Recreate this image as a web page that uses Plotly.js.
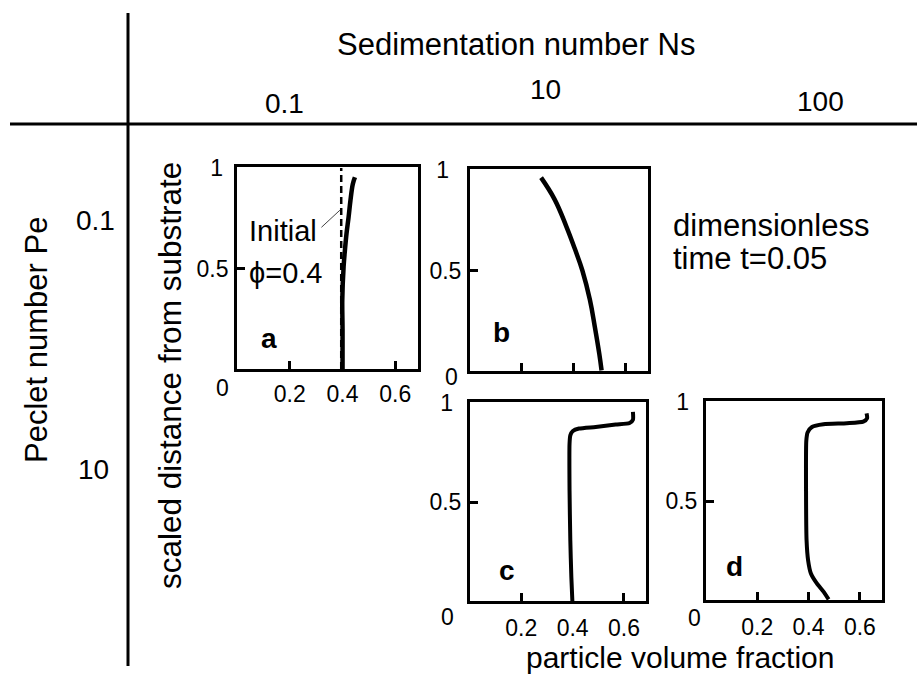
<!DOCTYPE html>
<html>
<head>
<meta charset="utf-8">
<script src="https://cdn.plot.ly/plotly-3.0.1.min.js"></script>
<style>html,body{margin:0;padding:0;background:#fff;}#chart{width:917px;height:675px;}</style>
</head>
<body>
<div id="chart"></div>
<script>
// ---- data ----
// panel a: Pe=0.1, Ns=0.1
const phiA = [0.400, 0.400, 0.399, 0.404, 0.409, 0.415, 0.423, 0.430, 0.439, 0.447];
const zA   = [0.000, 0.200, 0.342, 0.508, 0.591, 0.673, 0.756, 0.839, 0.921, 0.954];
// initial state in panel a
const phiInit = [0.395, 0.395];
const zInit   = [0.000, 1.000];
// panel b: Pe=0.1, Ns=10
const phiB = [0.507, 0.498, 0.481, 0.462, 0.433, 0.405, 0.371, 0.326, 0.274];
const zB   = [0.003, 0.087, 0.220, 0.354, 0.500, 0.604, 0.720, 0.854, 0.962];
// panel c: Pe=10, Ns=10
const phiC = [0.399, 0.395, 0.391, 0.388, 0.388, 0.391, 0.401, 0.425, 0.490, 0.568, 0.622, 0.635, 0.635];
const zC   = [0.000, 0.121, 0.307, 0.559, 0.795, 0.837, 0.859, 0.871, 0.879, 0.891, 0.899, 0.916, 0.955];
// panel d: Pe=10, Ns=100
const phiD = [0.478, 0.458, 0.432, 0.409, 0.398, 0.392, 0.390, 0.391, 0.396, 0.413, 0.458, 0.549, 0.613, 0.628, 0.626];
const zD   = [0.003, 0.042, 0.084, 0.134, 0.201, 0.302, 0.553, 0.804, 0.846, 0.874, 0.888, 0.893, 0.901, 0.918, 0.943];

const xTickVals = [0.2, 0.4, 0.6];
const xTickText = ['0.2', '0.4', '0.6'];
const yTickVals = [0.5];
const yTickText = ['0.5'];
const yTopVals = [1];
const yTopText = ['1'];
const nsLabels = ['0.1', '10', '100'];
const peLabels = ['0.1', '10'];
const panelLetters = ['a', 'b', 'c', 'd'];

const FONT = 'Liberation Sans, Arial, sans-serif';

function curve(x, y, xa, ya, w, smooth, dash) {
  return {x: x, y: y, xaxis: xa, yaxis: ya, type: 'scatter', mode: 'lines',
          line: {color: '#000', width: w, dash: dash || 'solid',
                 shape: smooth ? 'spline' : 'linear', smoothing: smooth || 0},
          hoverinfo: 'skip', showlegend: false};
}

// curves live on the base axes; the dashed/initial and the profile are also mirrored
// onto the overlay axes (same range) so those axes get drawn with their "1" label
const traces = [
  curve(phiInit, zInit, 'x', 'y', 2.5, 0, '7px,4px'),
  curve(phiA, zA, 'x', 'y5', 4.5, 1),
  curve(phiB, zB, 'x2', 'y6', 4.5, 1.2),
  curve(phiC, zC, 'x3', 'y7', 4, 0.6),
  curve(phiD, zD, 'x4', 'y8', 4, 0.6)
];

const YR = [0, 1.005];
function xAxis(domain, anchor, showLabels, standoff) {
  return {domain: domain, anchor: anchor, range: [0, 0.686], showline: true, mirror: true,
          linecolor: '#000', linewidth: 3, ticks: 'inside', ticklen: 8, tickwidth: 3, tickcolor: '#000',
          tickvals: xTickVals, ticktext: xTickText, showticklabels: showLabels,
          ticklabelstandoff: standoff, showgrid: false, zeroline: false, fixedrange: true,
          tickfont: {family: FONT, size: 23, color: '#000'}};
}
function yAxis(domain, anchor) {
  return {domain: domain, anchor: anchor, range: YR, showline: true, mirror: true,
          linecolor: '#000', linewidth: 3, ticks: 'inside', ticklen: 8, tickwidth: 3, tickcolor: '#000',
          tickvals: yTickVals, ticktext: yTickText, showgrid: false, zeroline: false, fixedrange: true,
          ticklabelstandoff: 1,
          tickfont: {family: FONT, size: 23, color: '#000'}};
}
// overlay axis carrying only the "1" label (no tick mark), set a little further from the frame
function yTop(over, anchor, standoff) {
  return {overlaying: over, anchor: anchor, side: 'left', range: YR, showline: false, ticks: '',
          tickvals: yTopVals, ticktext: yTopText, showgrid: false, zeroline: false, fixedrange: true,
          ticklabelstandoff: standoff,
          tickfont: {family: FONT, size: 23, color: '#000'}};
}

function txt(text, x, y, size, opts) {
  return Object.assign({text: text, x: x, y: y, xref: 'paper', yref: 'paper', showarrow: false,
          font: {family: FONT, size: size, color: '#000'}, xanchor: 'center', yanchor: 'middle'}, opts || {});
}
function px(xp) { return xp / 917; }
function py(yp) { return 1 - yp / 675; }
function dtxt(text, x, y, xa, ya, size, opts) {
  return Object.assign({text: text, x: x, y: y, xref: xa, yref: ya, showarrow: false,
          font: {family: FONT, size: size, color: '#000'}}, opts || {});
}

const annotations = [
  txt('Sedimentation number Ns', px(516), py(45), 31),
  txt(nsLabels[0], px(284), py(104), 28),
  txt(nsLabels[1], px(545), py(90), 28),
  txt(nsLabels[2], px(820), py(102), 28),
  txt('Peclet number Pe', px(37), py(340), 31, {textangle: -90}),
  txt(peLabels[0], px(95), py(220), 28),
  txt(peLabels[1], px(93), py(469), 28),
  txt('scaled distance from substrate', px(170), py(376), 31.5, {textangle: -90}),
  txt('particle volume fraction', px(680), py(657), 30),
  txt('dimensionless', px(671), py(226), 31, {xanchor: 'left'}),
  txt('time t=0.05', px(671), py(259), 31, {xanchor: 'left'}),
  // labels inside panel a
  dtxt('Initial', 0.175, 0.685, 'x', 'y', 29),
  dtxt('\u03D5=0.4', 0.185, 0.48, 'x', 'y', 29),
  // panel letters
  dtxt('<b>' + panelLetters[0] + '</b>', 0.122, 0.154, 'x', 'y', 28),
  dtxt('<b>' + panelLetters[1] + '</b>', 0.122, 0.19, 'x2', 'y2', 28),
  dtxt('<b>' + panelLetters[2] + '</b>', 0.145, 0.155, 'x3', 'y3', 28),
  dtxt('<b>' + panelLetters[3] + '</b>', 0.112, 0.167, 'x4', 'y4', 28),
  // corner zeros
  dtxt('0', 0, 0, 'x', 'y', 23, {xshift: -15, yshift: -19}),
  dtxt('0', 0, 0, 'x2', 'y2', 23, {xshift: -18, yshift: -6}),
  dtxt('0', 0, 0, 'x3', 'y3', 23, {xshift: -22, yshift: -16}),
  dtxt('0', 0, 0, 'x4', 'y4', 23, {xshift: -11, yshift: -18})
];

const shapes = [
  // cross dividing the table
  {type: 'line', xref: 'paper', yref: 'paper', x0: px(128), x1: px(128), y0: py(13), y1: py(666), line: {color: '#000', width: 3}},
  {type: 'line', xref: 'paper', yref: 'paper', x0: px(10), x1: px(917), y0: py(124), y1: py(124), line: {color: '#000', width: 3}},
  // leader from "Initial" to the dashed line
  {type: 'line', xref: 'x', yref: 'y', x0: 0.32, y0: 0.705, x1: 0.39, y1: 0.79, line: {color: '#444', width: 1}}
];

const layout = {
  width: 917, height: 675, margin: {l: 0, r: 0, t: 0, b: 0},
  paper_bgcolor: '#fff', plot_bgcolor: 'rgba(0,0,0,0)', showlegend: false,
  font: {family: FONT, color: '#000'},
  xaxis:  xAxis([0.2585, 0.4558], 'y', true, 2),
  yaxis:  yAxis([0.4533, 0.7526], 'x'),
  xaxis2: xAxis([0.5125, 0.7067], 'y2', false, 2),
  yaxis2: yAxis([0.4504, 0.7496], 'x2'),
  xaxis3: xAxis([0.5125, 0.7045], 'y3', true, 4),
  yaxis3: yAxis([0.1096, 0.4044], 'x3'),
  xaxis4: xAxis([0.7699, 0.9618], 'y4', true, 4),
  yaxis4: yAxis([0.1111, 0.4059], 'x4'),
  yaxis5: yTop('y', 'x', 13),
  yaxis6: yTop('y2', 'x2', 20),
  yaxis7: yTop('y3', 'x3', 16),
  yaxis8: yTop('y4', 'x4', 16),
  annotations: annotations,
  shapes: shapes
};

Plotly.newPlot('chart', traces, layout, {staticPlot: true, displayModeBar: false});
</script>
</body>
</html>
